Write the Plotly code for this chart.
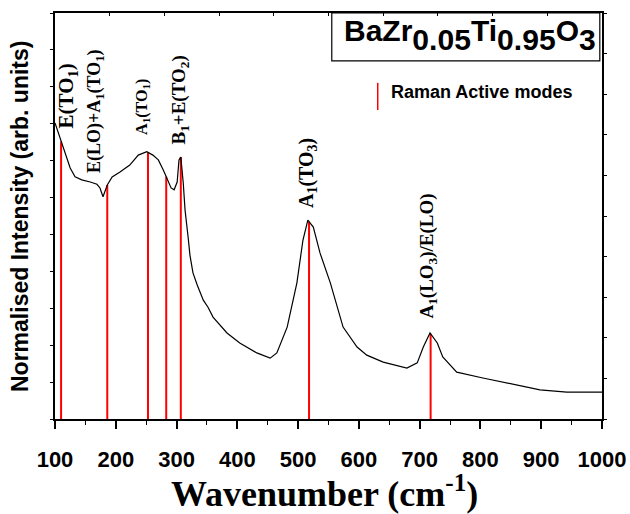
import numpy as np
import plotly.graph_objects as go

# ---- data ----
wavenumber = [100, 108, 116, 125, 133, 144, 158, 169, 174, 179, 186, 194, 207, 223,
              237, 251, 261, 270, 278, 284, 291, 296, 301, 304, 307, 311, 314, 319,
              322, 327, 334, 344, 352, 360, 383, 404, 432, 454, 465, 482, 498, 508,
              516, 525, 536, 553, 566, 574, 597, 613, 640, 668, 679, 696, 706, 717,
              729, 738, 761, 804, 860, 898, 942, 1000]
intensity = [8.02, 7.62, 7.21, 6.80, 6.56, 6.48, 6.42, 6.36, 6.26, 6.02, 6.34, 6.56,
             6.69, 6.88, 7.15, 7.24, 7.15, 7.02, 6.75, 6.53, 6.26, 6.21, 6.42, 7.02,
             7.10, 6.40, 5.66, 4.93, 4.44, 3.96, 3.63, 3.22, 3.02, 2.76, 2.33, 2.06,
             1.79, 1.65, 1.79, 2.49, 3.69, 4.85, 5.39, 5.20, 4.50, 3.69, 2.95, 2.49,
             1.95, 1.73, 1.54, 1.41, 1.38, 1.52, 1.95, 2.33, 2.06, 1.68, 1.27, 1.11,
             0.92, 0.79, 0.73, 0.73]

mode_positions = [110, 186, 253, 283, 307, 518, 718]
mode_labels = ["E(TO<sub>1</sub>)",
               "E(LO)+A<sub>1</sub>(TO<sub>1</sub>)",
               "A<sub>1</sub>(TO<sub>1</sub>)",
               "B<sub>1</sub>+E(TO<sub>2</sub>)",
               "A<sub>1</sub>(TO<sub>3</sub>)",
               "A<sub>1</sub>(LO<sub>3</sub>)/E(LO)"]
x_ticks = [100, 200, 300, 400, 500, 600, 700, 800, 900, 1000]
title_parts = ["BaZr", "0.05", "Ti", "0.95", "O", "3"]

# ---- placement / styling ----
label_x = [119.7, 165.8, 243.0, 305.7, 514.6, 713.7]
label_y = [7.83, 6.61, 7.64, 7.37, 5.66, 2.68]
label_size = [21, 18, 16, 19, 20, 19]
part_styles = ["<span style='font-size:30px'>{}</span>", "<sub>{}</sub>",
               "<span style='font-size:30px'>{}</span>", "<sub>{}</sub>",
               "<span style='font-size:30px'>{}</span>", "<sub>{}</sub>"]
title_text = "".join(st.format(p) for st, p in zip(part_styles, title_parts))

mode_heights = np.interp(mode_positions, wavenumber, intensity)

fig = go.Figure()

for xp, h in zip(mode_positions, mode_heights):
    fig.add_trace(go.Scatter(x=[xp, xp], y=[0, h], mode="lines",
                             line=dict(color="#ff0000", width=2),
                             showlegend=False, hoverinfo="skip"))

fig.add_trace(go.Scatter(x=wavenumber, y=intensity, mode="lines",
                         line=dict(color="black", width=1.2),
                         showlegend=False))

fig.add_trace(go.Scatter(x=[0], y=[0], xaxis="x2", yaxis="y2", mode="markers",
                         marker=dict(opacity=0), showlegend=False, hoverinfo="skip"))

serif = "Liberation Serif, Times New Roman, serif"
sans = "Liberation Sans, Arial, sans-serif"

for lx, ly, lt, ls in zip(label_x, label_y, mode_labels, label_size):
    fig.add_annotation(x=lx, y=ly, text=lt, textangle=-90,
                       xanchor="center", yanchor="bottom", showarrow=False,
                       font=dict(family=serif, size=ls, color="black", weight="bold"))

# compound box
fig.add_shape(type="rect", xref="paper", yref="paper", x0=0.506, x1=0.996,
              y0=0.882, y1=1.0, line=dict(color="black", width=1.2))
fig.add_annotation(xref="paper", yref="paper", x=0.5265, y=0.947, text=title_text,
                   showarrow=False, xanchor="left", yanchor="middle", borderpad=0,
                   font=dict(family=sans, size=43, color="black", weight="bold"))

# legend entry
fig.add_shape(type="line", xref="paper", yref="paper", x0=0.590, x1=0.590,
              y0=0.761, y1=0.828, line=dict(color="#ff0000", width=1.5))
fig.add_annotation(xref="paper", yref="paper", x=0.6106, y=0.805,
                   text="Raman Active modes", showarrow=False,
                   xanchor="left", yanchor="middle",
                   font=dict(family=sans, size=18, color="black", weight="bold"))

# axis titles
fig.add_annotation(xref="paper", yref="paper", x=-0.064, y=0.5,
                   text="Normalised Intensity (arb. units)", textangle=-90,
                   showarrow=False, xanchor="center", yanchor="middle",
                   font=dict(family=sans, size=23, color="black", weight="bold"))
fig.add_annotation(xref="paper", yref="paper", x=0.492, y=-0.178,
                   text="Wavenumber (cm<sup>-1</sup>)",
                   showarrow=False, xanchor="center", yanchor="middle",
                   font=dict(family=serif, size=36, color="black", weight="bold"))

fig.update_layout(
    width=630, height=514,
    margin=dict(l=55, r=28, t=13, b=95, autoexpand=False),
    paper_bgcolor="white", plot_bgcolor="white",
    showlegend=False,
    xaxis=dict(range=[100, 1000], tickvals=x_ticks, ticks="outside", ticklen=8,
               tickwidth=1.5, tickcolor="black", showline=True, linecolor="black",
               linewidth=1.5, showgrid=False, zeroline=False,
               minor=dict(dtick=50, ticks="outside", ticklen=4, tickcolor="black",
                          tickwidth=1.2, showgrid=False),
               tickfont=dict(family=sans, size=22, color="black", weight="bold"),
               ticklabelstandoff=12),
    yaxis=dict(range=[0, 11], dtick=1, ticks="outside", ticklen=3, tickcolor="black",
               showline=True, linecolor="black", linewidth=1.5, showgrid=False,
               zeroline=False, showticklabels=False),
    xaxis2=dict(range=[0, 10], dtick=1, overlaying="x", side="top", ticks="inside",
                ticklen=3, tickcolor="black", showline=True, linecolor="black",
                linewidth=1.5, showgrid=False, zeroline=False, showticklabels=False),
    yaxis2=dict(range=[0, 10], dtick=1, overlaying="y", side="right", ticks="outside",
                ticklen=3, tickcolor="black", showline=True, linecolor="black",
                linewidth=1.5, showgrid=False, zeroline=False, showticklabels=False),
)

fig.write_html("out.html", config={"displayModeBar": False},
               post_script="document.body.style.margin='0';")
